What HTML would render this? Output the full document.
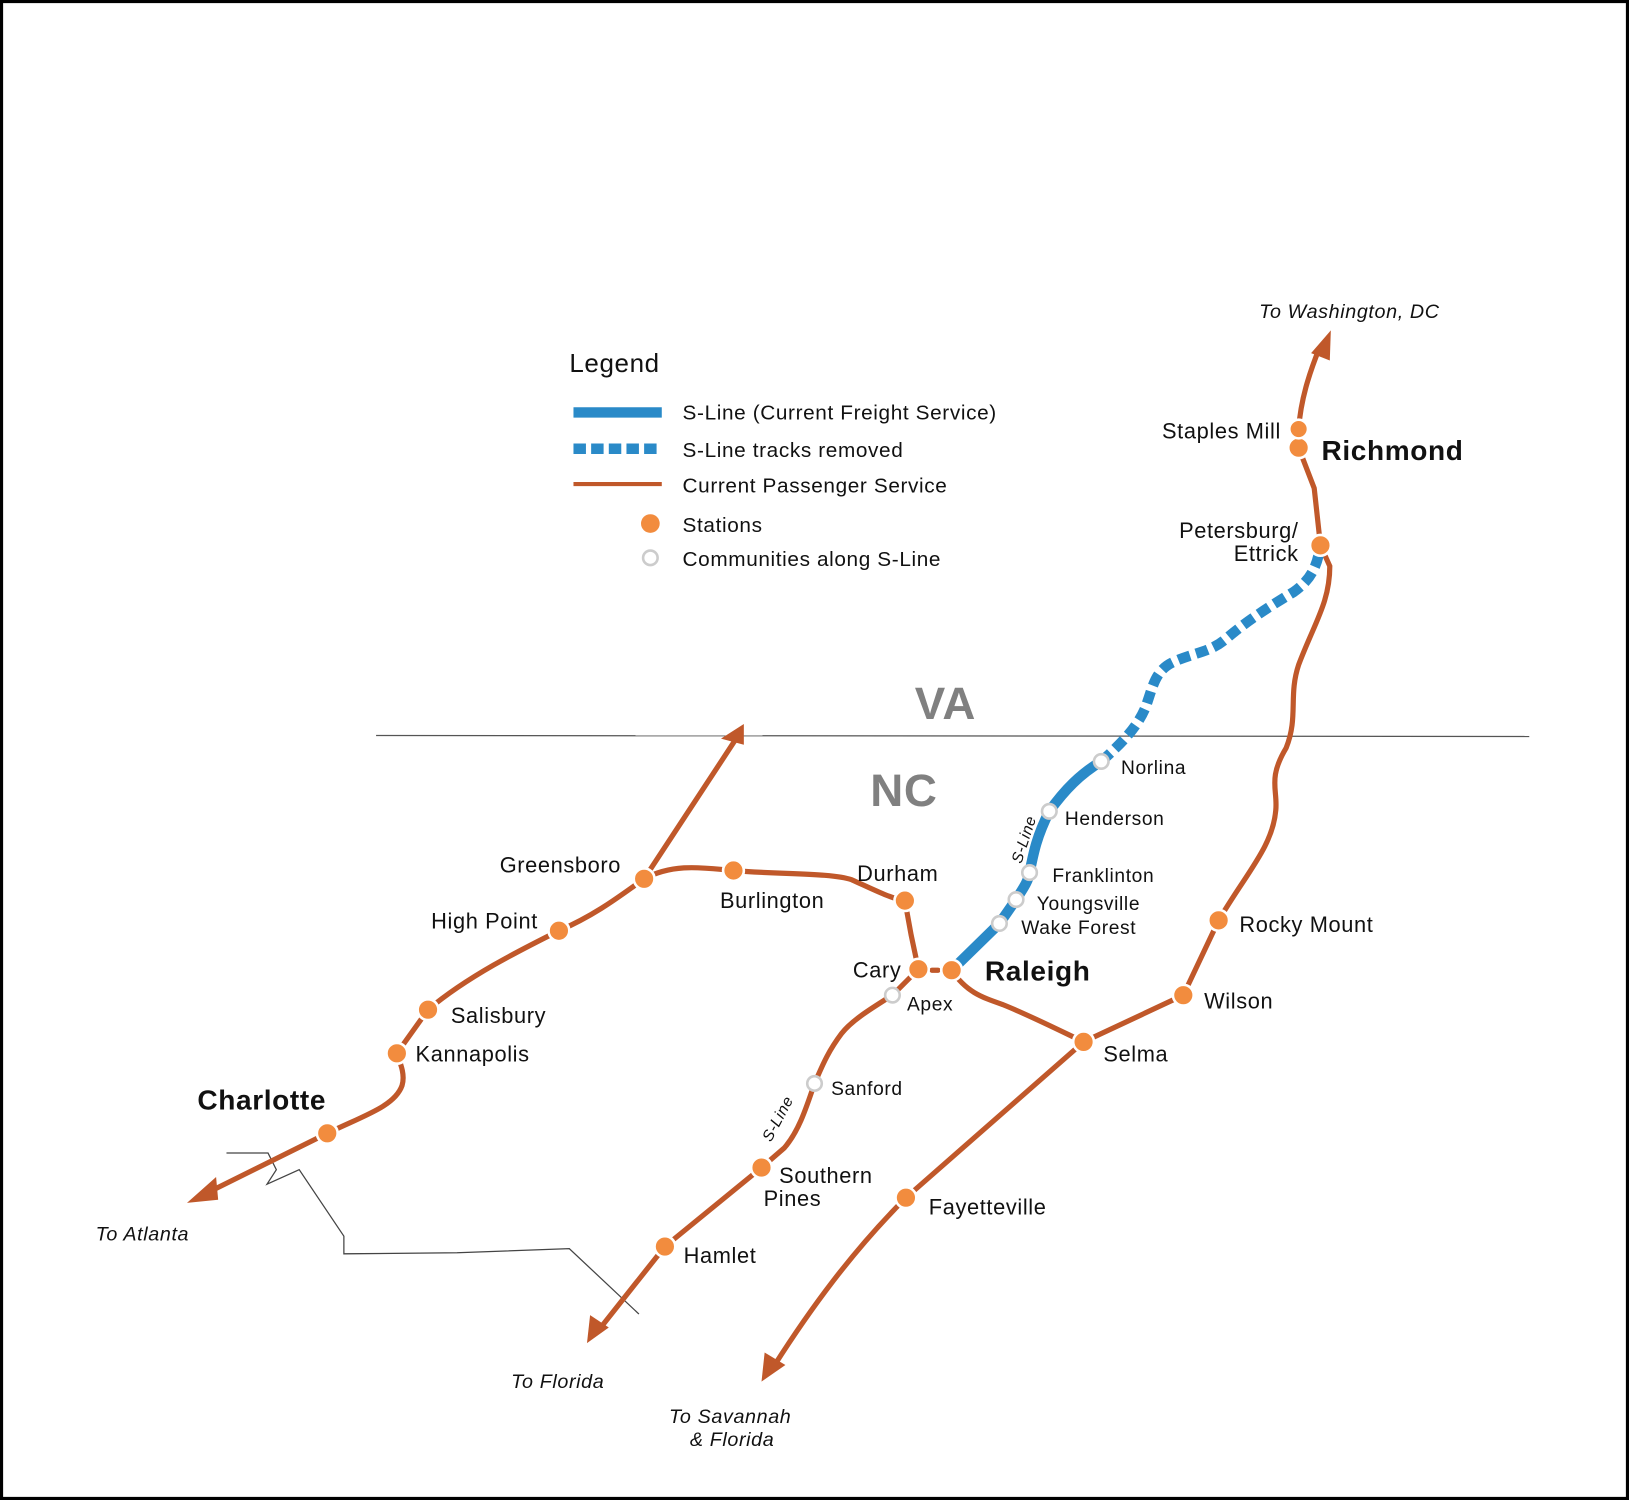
<!DOCTYPE html>
<html><head><meta charset="utf-8"><style>
html,body{margin:0;padding:0;background:#fff;}
svg{display:block;}
text{font-family:"Liberation Sans",sans-serif;fill:#111;letter-spacing:0.6px;}
</style></head><body>
<svg width="1629" height="1500" viewBox="0 0 1568 1444" preserveAspectRatio="none" xmlns="http://www.w3.org/2000/svg">
<rect x="1.5" y="1.5" width="1565" height="1441" fill="#fff" stroke="#000" stroke-width="3"/>
<path d="M362 708 L1472 709" stroke="#555" stroke-width="1.2" fill="none"/>
<path d="M218 1110 L258 1110 L266 1126 L257 1140 L288 1126 L331 1190 L331 1207 L440 1206 L548 1202 L615 1265" stroke="#444" stroke-width="1.2" fill="none"/>
<text x="910" y="692" font-size="44" font-weight="bold" text-anchor="middle" style="fill:#808080">VA</text>
<text x="870" y="776" font-size="44" font-weight="bold" text-anchor="middle" style="fill:#808080">NC</text>

<text x="548" y="358" font-size="25">Legend</text>
<line x1="552" y1="397" x2="637" y2="397" stroke="#2a8ac8" stroke-width="10"/>
<line x1="552" y1="432" x2="637" y2="432" stroke="#2a8ac8" stroke-width="10" stroke-dasharray="12,5"/>
<line x1="552" y1="466" x2="637" y2="466" stroke="#c0582a" stroke-width="4"/>
<circle cx="626" cy="504" r="9" fill="#f28c3e"/>
<circle cx="626" cy="537" r="7" fill="#fff" stroke="#ccc" stroke-width="2.5"/>
<g font-size="20">
<text x="657" y="404">S-Line (Current Freight Service)</text>
<text x="657" y="440">S-Line tracks removed</text>
<text x="657" y="474">Current Passenger Service</text>
<text x="657" y="512">Stations</text>
<text x="657" y="545">Communities along S-Line</text>
</g>

<g fill="none" stroke="#c0582a" stroke-width="5" stroke-linecap="round">
<path d="M192 1152 L315 1091 C350 1074 380 1065 387 1045 C390 1035 386 1025 382 1014 L412 972 C450 940 500 915 538 896 C575 880 600 860 620 846 C650 830 680 836 706 838 C750 842 800 840 820 847 C840 856 860 866 871 867 L877 900 L884 933"/>
<path d="M897 934 L903 934" />
<path d="M620 846 L708 712"/>
<path d="M916 934 C930 955 945 960 965 967 C990 977 1020 992 1043 1003 L1139 958 L1173 886 C1200 840 1225 815 1228 780 C1230 760 1220 750 1238 720 C1250 690 1240 670 1250 640 C1265 600 1280 580 1280 545 L1271 525 L1265 470 L1250 431 L1250 413 C1252 385 1260 360 1270 335"/>
<path d="M1043 1003 L872 1153 C820 1205 780 1260 745 1315"/>
<path d="M884 933 L859 958 C840 970 820 982 810 995 C795 1015 790 1030 784 1043 C775 1070 768 1090 755 1105 L733 1124 L640 1200 L575 1282"/>
</g>
<g fill="#c0582a">
<polygon points="180,1158 208,1133 210,1155 "/>
<polygon points="716,697 694,711 716,717"/>
<polygon points="1281,318 1262,340 1280,347"/>
<polygon points="565,1293 568,1266 586,1278"/>
<polygon points="733,1330 736,1302 756,1314"/>
</g>

<path d="M916 934 L962 889 L978 866 C985 855 990 848 991 840 C995 820 998 805 1010 781 C1025 760 1040 745 1060 733" fill="none" stroke="#2a8ac8" stroke-width="10"/>
<path d="M1060 733 C1080 715 1095 700 1103 680 C1110 660 1112 645 1130 637 C1150 628 1165 628 1180 615 C1200 598 1220 585 1245 570 C1262 558 1268 545 1271 525" fill="none" stroke="#2a8ac8" stroke-width="10" stroke-dasharray="12,6"/>

<g fill="#f28c3e" stroke="#fff" stroke-width="2.5">
<circle cx="315" cy="1091" r="10"/>
<circle cx="382" cy="1014" r="10"/>
<circle cx="412" cy="972" r="10"/>
<circle cx="538" cy="896" r="10"/>
<circle cx="620" cy="846" r="10"/>
<circle cx="706" cy="838" r="10"/>
<circle cx="871" cy="867" r="10"/>
<circle cx="884" cy="933" r="10"/>
<circle cx="916" cy="934" r="10"/>
<circle cx="1043" cy="1003" r="10"/>
<circle cx="1139" cy="958" r="10"/>
<circle cx="1173" cy="886" r="10"/>
<circle cx="1271" cy="525" r="10"/>
<circle cx="1250" cy="431" r="10"/>
<circle cx="1250" cy="413" r="9"/>
<circle cx="872" cy="1153" r="10"/>
<circle cx="733" cy="1124" r="10"/>
<circle cx="640" cy="1200" r="10"/>
</g>
<g fill="#fff" stroke="#ccc" stroke-width="2.5">
<circle cx="962" cy="889" r="7"/>
<circle cx="978" cy="866" r="7"/>
<circle cx="991" cy="840" r="7"/>
<circle cx="1010" cy="781" r="7"/>
<circle cx="1060" cy="733" r="7"/>
<circle cx="859" cy="958" r="7"/>
<circle cx="784" cy="1043" r="7"/>
</g>

<g font-size="21">
<text x="481" y="840">Greensboro</text>
<text x="415" y="894">High Point</text>
<text x="693" y="874">Burlington</text>
<text x="825" y="848">Durham</text>
<text x="821" y="941">Cary</text>
<text x="434" y="985">Salisbury</text>
<text x="400" y="1022">Kannapolis</text>
<text x="1062" y="1022">Selma</text>
<text x="1159" y="971">Wilson</text>
<text x="1193" y="897">Rocky Mount</text>
<text x="894" y="1169">Fayetteville</text>
<text x="750" y="1139">Southern</text>
<text x="735" y="1161">Pines</text>
<text x="658" y="1216">Hamlet</text>
<text x="1233" y="422" text-anchor="end">Staples Mill</text>
<text x="1250" y="518" text-anchor="end">Petersburg/</text>
<text x="1250" y="540" text-anchor="end">Ettrick</text>
</g>
<g font-size="18.5">
<text x="1079" y="745">Norlina</text>
<text x="1025" y="794">Henderson</text>
<text x="1013" y="849">Franklinton</text>
<text x="998" y="876">Youngsville</text>
<text x="983" y="899">Wake Forest</text>
<text x="873" y="973">Apex</text>
<text x="800" y="1054">Sanford</text>
</g>
<g font-size="27" font-weight="bold">
<text x="190" y="1068">Charlotte</text>
<text x="948" y="944">Raleigh</text>
<text x="1272" y="443">Richmond</text>
</g>
<g font-size="19" font-style="italic">
<text x="92" y="1194">To Atlanta</text>
<text x="492" y="1336">To Florida</text>
<text x="644" y="1370">To Savannah</text>
<text x="664" y="1392">&amp; Florida</text>
<text x="1212" y="306">To Washington, DC</text>
</g>
<g font-size="15" font-style="italic">
<text transform="translate(983,832) rotate(-72)">S-Line</text>
<text transform="translate(742,1100) rotate(-62)">S-Line</text>
</g>
</svg>
</body></html>
